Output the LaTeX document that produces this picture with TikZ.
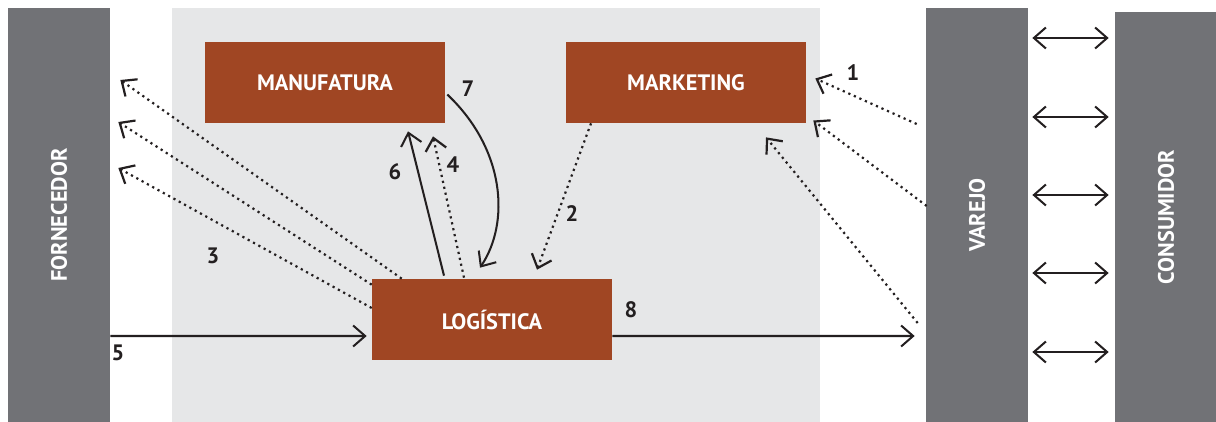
\documentclass[tikz,border=0pt]{standalone}
\usepackage{fontspec}
\setmainfont{PT Sans}
\usepackage{tikz}
\usetikzlibrary{arrows.meta,calc}
\pgfdeclarelayer{bg}
\pgfsetlayers{bg,main}
\definecolor{tijolo}{RGB}{160,70,35}
\definecolor{chumbo}{RGB}{113,114,118}
\definecolor{nevoa}{RGB}{230,231,232}
\definecolor{tinta}{RGB}{35,31,32}

\begin{document}
\begin{tikzpicture}[x=0.02cm,y=-0.02cm,
    >={Straight Barb[length=0.24cm,width=0.42cm]},
    setor/.style={fill=tijolo,text=white,font=\fontsize{12.7}{15}\selectfont\bfseries,
      minimum width=4.8cm,minimum height=1.62cm,inner sep=0pt},
    barra/.style={fill=chumbo,minimum width=2.04cm,inner sep=0pt},
    rotulo/.style={text=white,font=\fontsize{12.7}{15}\selectfont\bfseries,rotate=90},
    num/.style={text=tinta,font=\fontsize{12.7}{15}\selectfont\bfseries},
    fluxo/.style={->,draw=tinta,line width=1.15pt},
    info/.style={->,draw=tinta,line width=1.25pt,dash pattern=on 1.25pt off 2.2pt}]
    \useasboundingbox (0,0) rectangle (1216,422);

    % colunas laterais
    \node [barra,minimum height=8.28cm] (forn) at (59,215) {};
    \node [barra,minimum height=8.28cm] (varejo) at (977,215) {};
    \node [barra,minimum height=8.2cm] (consum) at (1166,217) {};
    \node [rotulo] (fornTxt) at (forn) {FORNECEDOR};
    \node [rotulo] (varejoTxt) at (varejo) {VAREJO};
    \node [rotulo] (consumTxt) at (consum) {CONSUMIDOR};

    % setores da empresa
    \node [setor] (manuf) at (325,82.5) {MANUFATURA};
    \node [setor] (mark) at (686,82.5) {MARKETING};
    \node [setor] (log) at (492,319.5) {LOGÍSTICA};

    \begin{pgfonlayer}{bg}    % painel da empresa
        \fill [nevoa] (172,8) rectangle (820,422);
    \end{pgfonlayer}

    % fluxos
    \draw [info] ($(varejo.west)+(-9,-91)$) -- ($(mark.east)+(9,-4)$);
    \draw [info] ($(varejo.west)+(1,-9)$) -- ($(mark.east)+(7,38)$);
    \draw [info] ($(varejo.west)+(-8,108)$) -- ($(mark.south)+(80,14)$);
    \draw [info] ($(mark.south)+(-95,0)$) -- ($(log.north)+(45,-9)$);
    \draw [info] ($(log.north west)+(30,0)$) -- ($(forn.east)+(10,-135)$);
    \draw [info] ($(log.north west)+(0,6)$) -- ($(forn.east)+(8,-93)$);
    \draw [info] ($(log.west)+(0,-11.5)$) -- ($(forn.east)+(8,-47)$);
    \draw [info] ($(log.north)+(-28,-1)$) -- ($(manuf.south)+(108,13)$);
    \draw [fluxo] ($(log.north)+(-48,-3)$) -- ($(manuf.south)+(83,8)$);
    \draw [fluxo] ($(manuf.east)+(2,12)$) .. controls +(58,55) and +(30,-45) .. ($(log.north)+(-12,-11)$);
    \draw [fluxo] ($(forn.east)+(0,121)$) -- ($(log.west)+(-5,16.5)$);
    \draw [fluxo] ($(log.east)+(0,16.5)$) -- ($(varejo.west)+(-11,121)$);
    \foreach \y in {38,117,195,273,352}
        \draw [fluxo,<->] ($(varejo.east |- 0,\y)+(4,0)$) -- ($(consum.west |- 0,\y)+(-6,0)$);

    % numeracao
    \node [num] (n1) at (853,73) {1};
    \node [num] (n2) at (572,214) {2};
    \node [num] (n3) at (213,256) {3};
    \node [num] (n4) at (453,165) {4};
    \node [num] (n5) at (118,353) {5};
    \node [num] (n6) at (395,172) {6};
    \node [num] (n7) at (468,89) {7};
    \node [num] (n8) at (631,310) {8};
\end{tikzpicture}
\end{document}
